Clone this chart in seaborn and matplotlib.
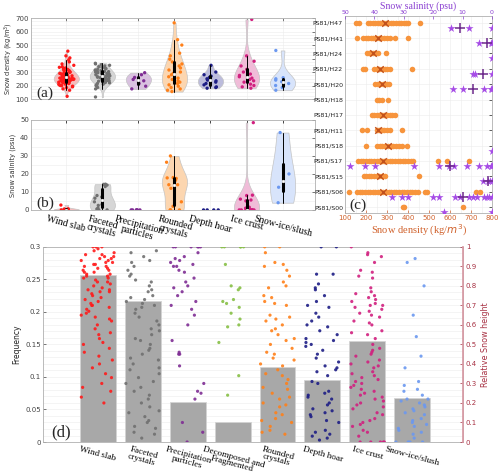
import numpy as np
import pandas as pd
import matplotlib
matplotlib.use("Agg")
import matplotlib.pyplot as plt
from matplotlib.ticker import MultipleLocator, AutoMinorLocator
import seaborn as sns

sns.set_theme(style="white")
plt.rcParams['font.family'] = ['DejaVu Sans']
SERIF = 'Liberation Serif'

# ---------------- categories and colours ----------------
cats_ab = ["Wind slab", "Faceted crystals", "Precipitation particles",
           "Rounded crystals", "Depth hoar", "Ice crust", "Snow-ice/slush"]
labels_ab = ["Wind slab", "Faceted\ncrystals", "Precipitation\nparticles",
             "Rounded\ncrystals", "Depth hoar", "Ice crust", "Snow-ice/slush"]
cats_d = ["Wind slab", "Faceted crystals", "Precipitation particles",
          "Decomposed and Fragmented", "Rounded crystals", "Depth hoar",
          "Ice crust", "Snow-ice/slush"]
labels_d = ["Wind slab", "Faceted\ncrystals", "Precipitation\nparticles",
            "Decomposed and\nFragmented", "Rounded\ncrystals", "Depth hoar",
            "Ice crust", "Snow-ice/slush"]

dark = {"Wind slab": "#ff1a1a", "Faceted crystals": "#707070",
        "Precipitation particles": "#7f2d94", "Decomposed and Fragmented": "#86bf45",
        "Rounded crystals": "#ff8019", "Depth hoar": "#1d1d85",
        "Ice crust": "#d1207f", "Snow-ice/slush": "#6b98f0"}
light = {"Wind slab": "#f6bcbc", "Faceted crystals": "#d6d6d6",
         "Precipitation particles": "#d9c2e0", "Rounded crystals": "#fcd6b0",
         "Depth hoar": "#bcbcdc", "Ice crust": "#f0bcd8", "Snow-ice/slush": "#d8e4fb"}

# ---------------- (a) snow density ----------------
dens_wind = [120, 165, 175, 185, 190, 195, 200, 200, 205, 210, 210, 215, 215, 220, 220,
             222, 225, 225, 228, 230, 230, 232, 235, 235, 238, 240, 240, 242, 245, 245,
             248, 250, 250, 252, 255, 255, 258, 260, 260, 262, 265, 265, 268, 270, 270,
             272, 275, 278, 280, 280, 283, 285, 288, 290, 292, 295, 298, 300, 303, 305,
             310, 312, 315, 320, 325, 330, 335, 340, 350, 360, 375, 390, 405, 420, 455]
dens_facet = [115, 175, 185, 195, 200, 205, 210, 215, 220, 222, 225, 230, 232, 235, 238,
              240, 243, 245, 248, 250, 252, 255, 258, 260, 262, 265, 268, 270, 272, 275,
              278, 280, 282, 285, 288, 290, 292, 295, 298, 300, 303, 305, 308, 310, 315,
              320, 325, 330, 335, 340, 345, 350, 355, 360, 365]
dens_precip = [175, 195, 215, 235, 245, 260, 280, 295]
dens_round = [155, 165, 175, 185, 195, 205, 215, 225, 235, 245, 255, 265, 280, 290, 300,
              315, 330, 345, 360, 375, 395, 420, 440, 500, 540, 665]
dens_hoar = [180, 185, 190, 205, 215, 225, 235, 240, 250, 260, 270, 280, 300, 350]
dens_ice = [180, 190, 200, 210, 225, 235, 245, 255, 265, 275, 285, 300, 320, 345, 380,
            420, 690]
dens_slush = [165, 185, 200, 215, 228, 240, 250, 258, 460]

# ---------------- (b) snow salinity ----------------
sal_wind = [0, 0, 0, 0, 0.2, 0.5, 0.6, 2.7]
sal_facet = [0, 0, 0.5, 1, 2.5, 3, 4.5, 6.5, 7.2, 8, 13, 13.8, 14.2, 14.3]
sal_precip = [0, 0, 0, 0, 0, 0]
sal_round = [0, 0, 0, 2, 4.5, 12, 14, 14, 16.5, 17.5, 17.8, 18, 26.5, 30]
sal_hoar = [0, 0, 0, 0]
sal_ice = [0, 0, 0, 0, 0, 0, 0, 0, 0, 0, 0.5, 1, 1.5, 5, 5.5, 6, 8, 8.2, 48.5]
sal_slush = [4, 12.6, 20, 43]

# ---------------- (c) profiles per site ----------------
sites = ["PS81/H47", "PS81/H41", "PS81/H24", "PS81/H22", "PS81/H20", "PS81/H18",
         "PS81/H17", "PS81/H11", "PS81/S18", "PS81/S17", "PS81/S15", "PS81/S06",
         "PS81/S00"]
c_dens_h47 = [150, 165, 210, 220, 232, 245, 255, 265, 275, 285, 295, 305, 318, 330, 342,
              355, 368, 380, 392, 400, 457]
c_dens_h41 = [157, 186, 198, 210, 222, 235, 248, 260, 272, 285, 298, 314, 338, 400]
c_dens_h24 = [205, 215, 225, 235, 245, 257, 295]
c_dens_h22 = [186, 195, 238, 250, 262, 275, 290, 302, 314, 419]
c_dens_h20 = [243, 255, 268, 280, 292, 302, 310]
c_dens_h18 = [252, 262, 276, 305]
c_dens_h17 = [229, 240, 252, 264, 276, 288, 300, 312, 325, 338]
c_dens_h11 = [179, 205, 251, 262, 275, 288, 300, 314, 370]
c_dens_s18 = [200, 252, 265, 278, 290, 305, 318, 330, 345, 358, 371, 394]
c_dens_s17 = [162, 175, 188, 200, 212, 225, 238, 250, 262, 275, 288, 300, 312, 325, 338,
              350, 362, 375, 388, 400, 412, 424, 541, 586, 690]
c_dens_s15 = [190, 200, 212, 225, 238, 250, 262, 275, 290, 452]
c_dens_s06 = [119, 157, 170, 182, 195, 208, 220, 232, 245, 258, 270, 282, 295, 308, 320,
              332, 345, 358, 370, 382, 395, 408, 420, 435, 448, 481, 490, 724, 743]
c_dens_s00 = [375, 380, 662]
dens_mean_sites = ["PS81/H47", "PS81/H41", "PS81/H24", "PS81/H22", "PS81/H20",
                   "PS81/H17", "PS81/H11", "PS81/S18", "PS81/S17", "PS81/S15", "PS81/S06"]
dens_mean = [290, 257, 233, 267, 276, 281, 257, 305, 281, 267, 281]

c_sal_h47 = [14, 7.8, 0]
c_sal_h41 = [4.3, 0.5, 0]
c_sal_h24 = [0]
c_sal_h22 = [6.5, 5.8, 0]
c_sal_h20 = [13.3, 9.9, 2.7, 0.5, 0]
c_sal_s18 = [0]
c_sal_s17 = [48.3, 43.2, 39.8, 26.5, 18, 14.7, 12.9, 8.6, 4.4, 1.8, 0.5, 0]
c_sal_s15 = [3, 1.5, 0.8, 0]
c_sal_s06 = [34, 30.7, 28.5, 20, 18, 12.6, 10.9, 7.8, 6.5, 5.1, 2.7, 1.7, 0.9, 0]
c_sal_s00 = [16.3, 0]
sal_mean_sites = ["PS81/H47", "PS81/H41", "PS81/H22", "PS81/H20", "PS81/S17",
                  "PS81/S15", "PS81/S06"]
sal_mean = [10.9, 1.8, 3.0, 6.5, 14.3, 1.3, 9.9]

# ---------------- (d) frequency and relative height ----------------
freq = [0.256, 0.216, 0.062, 0.030, 0.115, 0.095, 0.156, 0.067]
h_wind = [1.0, 1.0, 1.0, 0.99, 0.98, 0.97, 0.96, 0.96, 0.95, 0.95, 0.94, 0.94, 0.93, 0.93,
          0.92, 0.92, 0.91, 0.91, 0.90, 0.90, 0.89, 0.89, 0.88, 0.88, 0.87, 0.87, 0.86,
          0.86, 0.85, 0.85, 0.84, 0.84, 0.83, 0.82, 0.82, 0.81, 0.80, 0.79, 0.78, 0.78,
          0.77, 0.77, 0.76, 0.75, 0.74, 0.73, 0.72, 0.71, 0.70, 0.70, 0.69, 0.68, 0.67,
          0.66, 0.65, 0.64, 0.63, 0.62, 0.60, 0.58, 0.56, 0.55, 0.53, 0.51, 0.50, 0.48,
          0.46, 0.44, 0.42, 0.40, 0.38, 0.35, 0.33, 0.30, 0.28, 0.26, 0.23, 0.20]
h_facet = [0.98, 0.97, 0.95, 0.93, 0.92, 0.90, 0.88, 0.86, 0.85, 0.83, 0.82, 0.80, 0.78,
           0.77, 0.75, 0.74, 0.73, 0.72, 0.71, 0.70, 0.69, 0.68, 0.66, 0.64, 0.62, 0.60,
           0.58, 0.57, 0.55, 0.53, 0.52, 0.50, 0.48, 0.47, 0.45, 0.43, 0.42, 0.40, 0.38,
           0.37, 0.35, 0.33, 0.31, 0.30, 0.28, 0.26, 0.24, 0.22, 0.20, 0.18, 0.16, 0.15,
           0.13, 0.11, 0.10, 0.08, 0.07, 0.05, 0.04, 0.02]
h_precip = [1, 1, 1, 1, 1, 1, 0.97, 0.95, 0.94, 0.93, 0.92, 0.91, 0.90, 0.90, 0.88, 0.87,
            0.84, 0.82, 0.80, 0.79, 0.77, 0.75, 0.72, 0.70, 0.68, 0.65, 0.60, 0.52, 0.46,
            0.45, 0.45, 0.39, 0.30, 0.26, 0.25, 0.22, 0.10, 0.05, 0.0]
h_decomp = [1, 1, 1, 1, 1, 0.91, 0.80, 0.79, 0.78, 0.73, 0.72, 0.71, 0.69, 0.66, 0.63,
            0.60, 0.59, 0.51, 0.34, 0.24]
h_round = [1.0, 1.0, 0.97, 0.92, 0.91, 0.90, 0.88, 0.85, 0.82, 0.80, 0.79, 0.75, 0.74,
           0.72, 0.71, 0.70, 0.65, 0.64, 0.63, 0.62, 0.60, 0.58, 0.57, 0.55, 0.53, 0.52,
           0.50, 0.48, 0.46, 0.45, 0.43, 0.42, 0.40, 0.39, 0.37, 0.35, 0.34, 0.32, 0.30,
           0.28, 0.27, 0.25, 0.23, 0.22, 0.20, 0.19, 0.18, 0.15, 0.14, 0.12, 0.11, 0.10,
           0.08, 0.06, 0.05, 0.04]
h_hoar = [1.0, 1.0, 0.86, 0.86, 0.81, 0.79, 0.78, 0.75, 0.72, 0.70, 0.69, 0.66, 0.64,
          0.62, 0.60, 0.59, 0.57, 0.55, 0.53, 0.52, 0.51, 0.50, 0.49, 0.47, 0.45, 0.43,
          0.41, 0.39, 0.38, 0.37, 0.36, 0.34, 0.31, 0.30, 0.26, 0.25, 0.24, 0.23, 0.22,
          0.20, 0.19, 0.17, 0.16, 0.15, 0.14, 0.13, 0.11, 0.10, 0.06, 0.05, 0.04, 0.03,
          0.02, 0.01]
h_ice = [1.0, 0.97, 0.96, 0.95, 0.92, 0.88, 0.87, 0.85, 0.84, 0.79, 0.77, 0.76, 0.75,
         0.74, 0.73, 0.72, 0.71, 0.70, 0.70, 0.69, 0.68, 0.67, 0.66, 0.65, 0.64, 0.62,
         0.61, 0.60, 0.57, 0.56, 0.55, 0.53, 0.50, 0.48, 0.47, 0.46, 0.45, 0.44, 0.42,
         0.41, 0.40, 0.39, 0.38, 0.36, 0.35, 0.34, 0.33, 0.32, 0.31, 0.30, 0.29, 0.28,
         0.27, 0.26, 0.25, 0.24, 0.23, 0.22, 0.21, 0.20, 0.19, 0.18, 0.17, 0.15, 0.14,
         0.12, 0.11, 0.10, 0.09, 0.08, 0.06, 0.05, 0.03, 0.0, 0.0, 0.0, 0.0, 0.0]
h_slush = [0.94, 0.92, 0.80, 0.65, 0.54, 0.44, 0.38, 0.31, 0.29, 0.27, 0.26, 0.24, 0.22,
           0.22, 0.21, 0.20, 0.19, 0.18, 0.17, 0.16, 0.15, 0.14, 0.12, 0.11, 0.10, 0.09,
           0.08, 0.07, 0.06, 0.05, 0.04, 0.02, 0.0, 0.0, 0.0, 0.0]


def long_df(keys, values):
    rows = [(k, v) for k, vals in zip(keys, values) for v in vals]
    return pd.DataFrame(rows, columns=['cat', 'val'])


def style_box(ax, color='#b0b0b0'):
    for s in ax.spines.values():
        s.set_visible(True)
        s.set_color(color)
        s.set_linewidth(0.6)
    ax.tick_params(direction='in', length=2, width=0.5, labelsize=5, pad=1.5,
                   colors='#444444', top=True, right=True)
    ax.tick_params(which='minor', length=0)


np.random.seed(3)
fig = plt.figure(figsize=(5.0, 4.76), dpi=100)

# ---------------- panel (a) ----------------
df_a = long_df(cats_ab, [dens_wind, dens_facet, dens_precip, dens_round,
                         dens_hoar, dens_ice, dens_slush])
ax_a = fig.add_axes([0.062, 0.792, 0.568, 0.170])
vkw = dict(cut=0, density_norm='width', width=0.7, inner='box', linewidth=0.5,
           linecolor='#c4c4c4', legend=False, saturation=1,
           inner_kws=dict(box_width=2.2, whis_width=0.7, color='black', marker='o'))
sns.violinplot(data=df_a, x='cat', y='val', hue='cat', order=cats_ab,
               hue_order=list(light), palette=light, ax=ax_a, **vkw)
sns.stripplot(data=df_a, x='cat', y='val', hue='cat', order=cats_ab,
              palette=dark, size=2.4, jitter=0.22, linewidth=0, legend=False,
              zorder=1.5, ax=ax_a)
ax_a.set_ylim(100, 700)
ax_a.yaxis.set_major_locator(MultipleLocator(100))
ax_a.set_xlim(-0.98, 6.9)
ax_a.set_xticklabels([])
ax_a.set_xlabel('')
ax_a.set_ylabel('Snow density (kg/m$^3$)', fontsize=4.8, labelpad=0.5, color='#333333')
ax_a.yaxis.set_minor_locator(AutoMinorLocator(4))
ax_a.grid(True, which='both', color='#ececec', lw=0.4)
style_box(ax_a)
ax_a.text(0.02, 0.03, '(a)', transform=ax_a.transAxes, family=SERIF, fontsize=11)

# ---------------- panel (b) ----------------
df_b = long_df(cats_ab, [sal_wind, sal_facet, sal_precip, sal_round,
                         sal_hoar, sal_ice, sal_slush])
df_b_v = df_b[df_b.groupby('cat')['val'].transform('nunique') > 1]
ax_b = fig.add_axes([0.062, 0.559, 0.568, 0.189])
sns.violinplot(data=df_b_v, x='cat', y='val', hue='cat', order=cats_ab,
               hue_order=list(light), palette=light, ax=ax_b, **vkw)
sns.stripplot(data=df_b, x='cat', y='val', hue='cat', order=cats_ab,
              palette=dark, size=2.4, jitter=0.22, linewidth=0, legend=False,
              zorder=1.5, ax=ax_b)
ax_b.set_ylim(0, 50)
ax_b.yaxis.set_major_locator(MultipleLocator(10))
ax_b.yaxis.set_minor_locator(AutoMinorLocator(2))
ax_b.set_xlim(-0.98, 6.9)
ax_b.set_xticks(range(len(cats_ab)))
ax_b.set_xticklabels(labels_ab, rotation=-15, ha='center', family=SERIF,
                     fontsize=7, linespacing=0.95)
ax_b.set_xlabel('')
ax_b.set_ylabel('Snow salinity (psu)', fontsize=4.8, labelpad=3, color='#333333')
ax_b.grid(True, which='both', color='#ececec', lw=0.4)
style_box(ax_b)
ax_b.tick_params(axis='x', labelsize=7, colors='black', pad=3)
ax_b.text(0.02, 0.03, '(b)', transform=ax_b.transAxes, family=SERIF, fontsize=11)

# ---------------- panel (c) ----------------
df_c = long_df(sites, [c_dens_h47, c_dens_h41, c_dens_h24, c_dens_h22, c_dens_h20,
                       c_dens_h18, c_dens_h17, c_dens_h11, c_dens_s18, c_dens_s17,
                       c_dens_s15, c_dens_s06, c_dens_s00])
sal_sites = ["PS81/H47", "PS81/H41", "PS81/H24", "PS81/H22", "PS81/H20", "PS81/S18",
             "PS81/S17", "PS81/S15", "PS81/S06", "PS81/S00"]
df_cs = long_df(sal_sites, [c_sal_h47, c_sal_h41, c_sal_h24, c_sal_h22, c_sal_h20,
                            c_sal_s18, c_sal_s17, c_sal_s15, c_sal_s06, c_sal_s00])
df_cs['pos'] = df_cs['cat'].map({s: i for i, s in enumerate(sites)}) + 0.33

ax_c = fig.add_axes([0.69, 0.5525, 0.294, 0.414])
sns.stripplot(data=df_c, x='val', y='cat', order=sites, orient='h', jitter=False,
              color='#f7943c', size=4.0, linewidth=0, ax=ax_c)
sns.scatterplot(x=dens_mean, y=[sites.index(s) for s in dens_mean_sites], marker='x',
                color='#c0501c', s=22, linewidth=1.0, ax=ax_c, zorder=3)
ax_c.set_xlim(100, 800)
ax_c.set_ylim(12.39, -0.44)
ax_c.xaxis.set_major_locator(MultipleLocator(100))
ax_c.set_xlabel('Snow density (kg/$m^3$)', family=SERIF, fontsize=7.5,
                color='#d0602a', labelpad=1)
ax_c.set_ylabel('')
ax_c.xaxis.set_minor_locator(AutoMinorLocator(2))
ax_c.grid(True, which='both', color='#ececec', lw=0.4)
style_box(ax_c)
ax_c.tick_params(axis='y', labelsize=4.5, colors='#222222')
ax_c.tick_params(axis='x', colors='#d0602a', top=False, labelsize=5)
ax_c.text(0.03, 0.02, '(c)', transform=ax_c.transAxes, family=SERIF, fontsize=11)

ax_c2 = ax_c.twiny()
sns.scatterplot(data=df_cs, x='val', y='pos', marker='*', color='#a64ce6', s=38,
                linewidth=0, ax=ax_c2)
sns.scatterplot(x=sal_mean, y=[sites.index(s) + 0.33 for s in sal_mean_sites],
                marker='+', color='#6d2a8c', s=45, linewidth=1.1, ax=ax_c2, zorder=3)
ax_c2.set_xlim(50, 0)
ax_c2.set_ylim(12.39, -0.44)
ax_c2.xaxis.set_major_locator(MultipleLocator(10))
ax_c2.set_xlabel('Snow salinity (psu)', family=SERIF, fontsize=7,
                 color='#8a3fd1', labelpad=1)
ax_c2.set_ylabel('')
ax_c2.tick_params(axis='x', direction='in', length=2, width=0.5, labelsize=4.5,
                  colors='#8a3fd1', pad=0.5)
for s in ax_c2.spines.values():
    s.set_visible(False)

# ---------------- panel (d) ----------------
df_d = long_df(cats_d, [h_wind, h_facet, h_precip, h_decomp, h_round, h_hoar,
                        h_ice, h_slush])
ax_d = fig.add_axes([0.086, 0.0714, 0.84, 0.41])
sns.barplot(x=cats_d, y=freq, order=cats_d, color='#a8a8a8', saturation=1, width=0.8,
            edgecolor='#d4d4d4', linewidth=0.6, ax=ax_d)
ax_d.set_ylim(0, 0.3)
ax_d.yaxis.set_major_locator(MultipleLocator(0.05))
ax_d.yaxis.set_major_formatter(plt.FuncFormatter(lambda v, p: f'{v:g}'))
ax_d.yaxis.set_minor_locator(AutoMinorLocator(5))
ax_d.grid(True, axis='y', which='both', color='#ececec', lw=0.4)
ax_d.set_axisbelow(True)
ax_d.set_ylabel('Frequency', fontsize=5.5, labelpad=3, color='#222222')
style_box(ax_d)
ax_d.tick_params(right=False, top=False)

ax_d2 = ax_d.twinx()
sns.stripplot(data=df_d, x='cat', y='val', hue='cat', order=cats_d, palette=dark,
              size=2.3, jitter=0.38, linewidth=0, alpha=0.9, legend=False, ax=ax_d2)
ax_d2.set_ylim(0, 1)
ax_d2.yaxis.set_major_locator(MultipleLocator(0.1))
ax_d2.yaxis.set_major_formatter(plt.FuncFormatter(lambda v, p: f'{v:g}'))
ax_d2.set_ylabel('Relative Snow height', fontsize=5.8, color='#a83244', labelpad=3)
ax_d2.tick_params(axis='y', direction='in', length=2, width=0.5, labelsize=5,
                  colors='#a83244', pad=2)
ax_d2.spines['right'].set_color('#d89aa4')
for k in ['left', 'top', 'bottom']:
    ax_d2.spines[k].set_visible(False)

ax_d.set_xlim(-1.22, 8.13)
ax_d.set_xticks(range(len(cats_d)))
ax_d.set_xticklabels(labels_d, rotation=-15, ha='center', family=SERIF, fontsize=6.6,
                     linespacing=0.9)
ax_d.tick_params(axis='x', colors='black', labelsize=6.6, pad=2, length=0)
ax_d.set_xlabel('')
ax_d2.set_xlabel('')
ax_d.text(0.02, 0.03, '(d)', transform=ax_d.transAxes, family=SERIF, fontsize=12)

fig.savefig('out.png', dpi=100)
